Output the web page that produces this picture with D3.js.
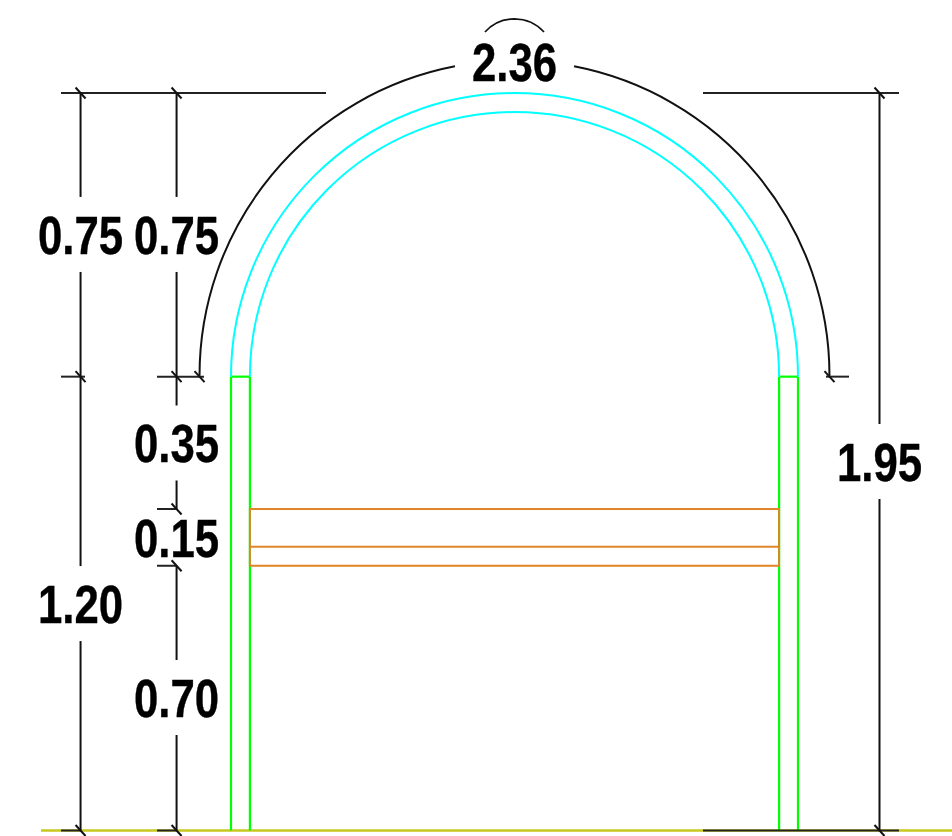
<!DOCTYPE html>
<html><head><meta charset="utf-8">
<script src="https://cdn.jsdelivr.net/npm/d3@7/dist/d3.min.js"></script>
<style>html,body{margin:0;padding:0;background:#fff}svg{display:block}
text{font-family:"Liberation Sans",sans-serif;font-weight:700;font-size:53px;fill:#000;text-anchor:middle;stroke:#000;stroke-width:0.4}</style>
</head><body><svg id="c" width="952" height="836"></svg>
<script>
// Values in metres
const totalHeight = 1.95, springing = 1.20, outerRadius = 0.75, innerRadius = 0.70;
const beamLevels = [0.70, 0.75, 0.85];
const leftChainH = [[0,1.20,"1.20",0.60],[1.20,1.95,"0.75",1.576]];
const midChainH = [[0,0.70,"0.70",0.3517],[0.70,0.85,"0.15",0.776],[0.85,1.20,"0.35",1.0246],[1.20,1.95,"0.75",1.576]];
const dimX = {left:-1.148,mid:-0.894,right:0.9656};
const arcDimRadius = 0.8333, arcGapDeg = 10.9;
const tickLabelArc = "2.36", tickLabelTotal = "1.95";

const x = d3.scaleLinear().domain([0,1]).range([514.5,892.5]);
const y = d3.scaleLinear().domain([0,1.95]).range([830.5,93]);
const k = 378;
const svg = d3.select("#c");
const line = (g,x1,y1,x2,y2,col,w)=>g.append("line").attr("x1",x1).attr("y1",y1).attr("x2",x2).attr("y2",y2).attr("stroke",col).attr("stroke-width",w);
const BK="#111", G="#00ff00", C="#00ffff", O="#e08428", Y="#c8c81e";

// ground
line(svg,41,y(0),952,y(0),Y,2.4);

// walls
[-outerRadius,-innerRadius,innerRadius,outerRadius].forEach(v=>line(svg,x(v),y(0),x(v),y(springing),G,2.2));
line(svg,x(-outerRadius),y(springing),x(-innerRadius),y(springing),G,2.2);
line(svg,x(innerRadius),y(springing),x(outerRadius),y(springing),G,2.2);

// vault
const arc = (r,a0,a1)=>d3.arc()({innerRadius:r*k,outerRadius:r*k,startAngle:a0,endAngle:a1});
[outerRadius,innerRadius].forEach(r=>svg.append("path").attr("d",arc(r,-Math.PI/2,Math.PI/2))
  .attr("transform",`translate(${x(0)},${y(springing)})`).attr("fill","none").attr("stroke",C).attr("stroke-width",2));

// beam
const bx0=x(-innerRadius), bx1=x(innerRadius);
svg.append("rect").attr("x",bx0).attr("y",y(beamLevels[2])).attr("width",bx1-bx0).attr("height",y(beamLevels[0])-y(beamLevels[2]))
  .attr("fill","none").attr("stroke",O).attr("stroke-width",2);
line(svg,bx0,y(beamLevels[1]),bx1,y(beamLevels[1]),O,2);

// dimension helpers
const tick=(px,py)=>line(svg,px-5,py-5.5,px+5,py+5.5,BK,2);
const gapHalf=37.5;
function dimV(dx,h0,h1,label,lh,hasGap){
  const px=x(dx);
  if(hasGap){
    const c=y(lh);
    line(svg,px,y(h0),px,c+gapHalf,BK,2);
    line(svg,px,c-gapHalf,px,y(h1),BK,2);
  }
  svg.append("text").attr("transform",`translate(${px},${y(lh)+19.5}) scale(0.825,1)`).text(label);
}
leftChainH.forEach(d=>dimV(dimX.left,d[0],d[1],d[2],d[3],true));
midChainH.forEach(d=>dimV(dimX.mid,d[0],d[1],d[2],d[3],d[2]!=="0.15"));
dimV(dimX.right,0,totalHeight,tickLabelTotal,0.9757,true);

// extension lines
const ext=(a,b,h)=>line(svg,a,y(h),b,y(h),"#222",2);
ext(61,326,1.95); ext(61,85,1.20); ext(157,204,1.20);
ext(157,177,0.85); ext(157,177,0.70); ext(61,81,0); ext(157,177,0);
ext(703,899,1.95); ext(703,899,0); ext(826,849,1.20);
[[dimX.left,0],[dimX.left,1.2],[dimX.left,1.95],[dimX.mid,0],[dimX.mid,0.70],[dimX.mid,0.85],[dimX.mid,1.2],[dimX.mid,1.95],[dimX.right,0],[dimX.right,1.95]]
 .forEach(d=>tick(x(d[0]),y(d[1])));
tick(x(-arcDimRadius),y(1.2)); tick(x(arcDimRadius),y(1.2));

// arc dimension
const g=arcGapDeg*Math.PI/180;
[[-Math.PI/2,-g],[g,Math.PI/2]].forEach(a=>svg.append("path").attr("d",arc(arcDimRadius,a[0],a[1]))
  .attr("transform",`translate(${x(0)},${y(springing)-1})`).attr("fill","none").attr("stroke",BK).attr("stroke-width",2));
svg.append("path").attr("d",arc(40/k,-0.83,0.83)).attr("transform",`translate(${x(0)},59)`).attr("fill","none").attr("stroke",BK).attr("stroke-width",1.7);
svg.append("text").attr("transform",`translate(${x(0)},80.5) scale(0.825,1)`).text(tickLabelArc);
</script></body></html>
